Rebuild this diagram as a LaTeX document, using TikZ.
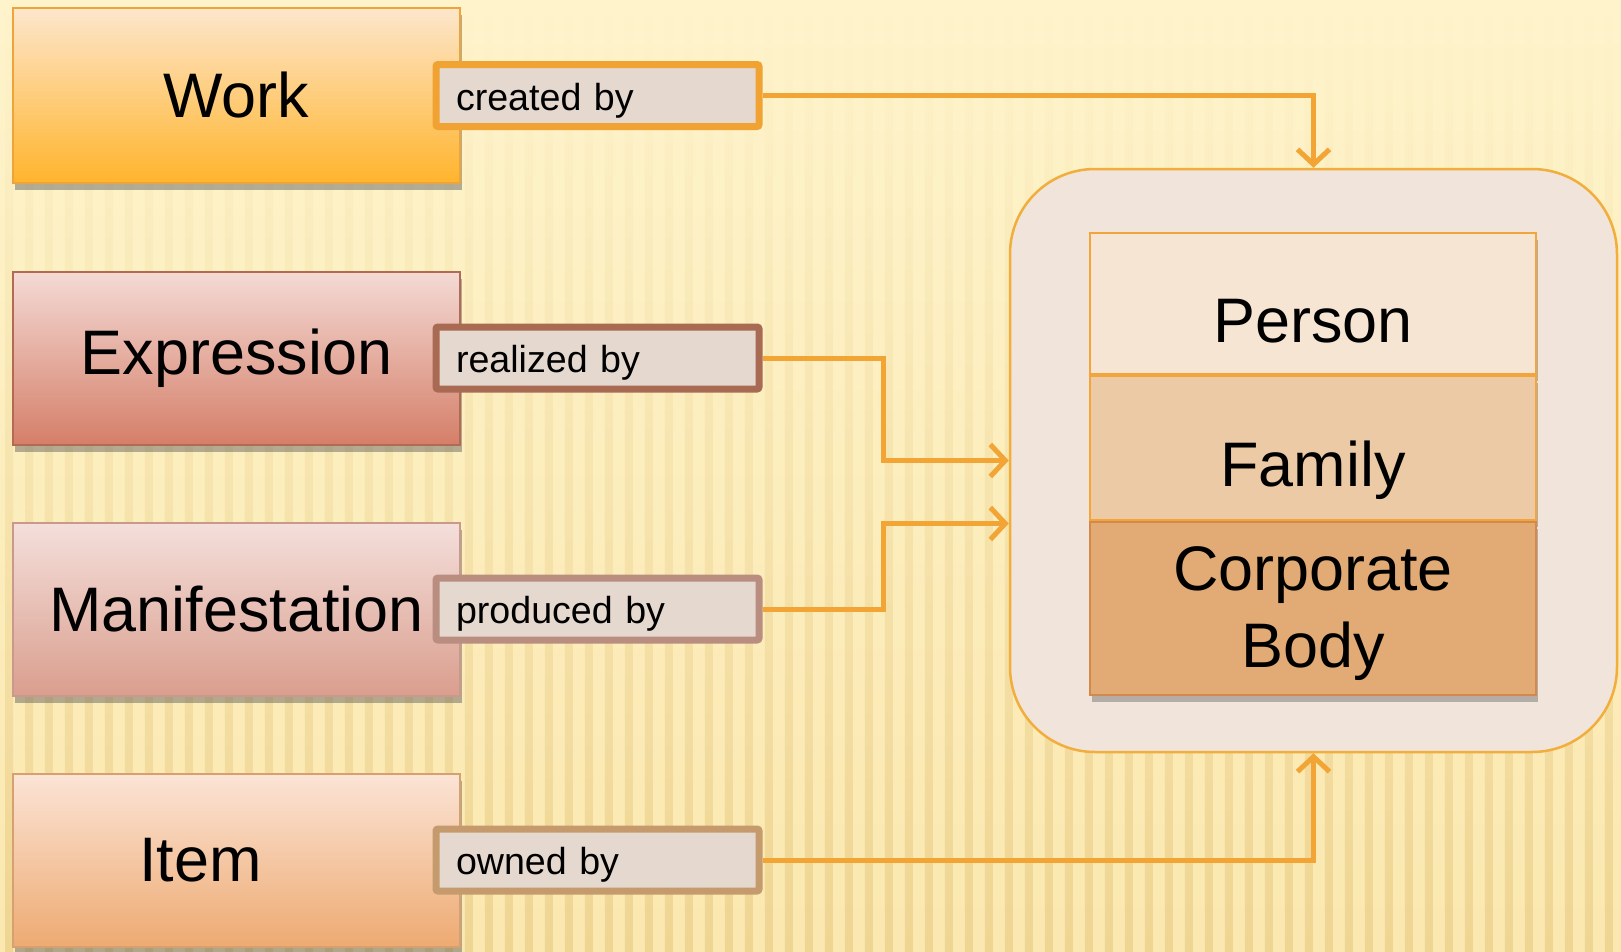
\documentclass[tikz,border=0pt]{standalone}
\usepackage{fontspec}
\setmainfont{Liberation Sans}
\usetikzlibrary{arrows.meta,shadows}

\definecolor{bgtop}{HTML}{FEF3CB}
\definecolor{bgbot}{HTML}{FBE8B0}
\definecolor{stripe}{HTML}{EFD592}
\definecolor{worktop}{HTML}{FDE6CC}
\definecolor{workbot}{HTML}{FFB42C}
\definecolor{workline}{HTML}{EFA43A}
\definecolor{exprtop}{HTML}{F4DAD5}
\definecolor{exprbot}{HTML}{D57F69}
\definecolor{exprline}{HTML}{B26A55}
\definecolor{manitop}{HTML}{F4DFDB}
\definecolor{manibot}{HTML}{DA9E8E}
\definecolor{maniline}{HTML}{C8998C}
\definecolor{itemtop}{HTML}{FBE4D6}
\definecolor{itembot}{HTML}{EEAA72}
\definecolor{itemline}{HTML}{D6A070}
\definecolor{relfill}{HTML}{E5D8CF}
\definecolor{createdline}{HTML}{F0A232}
\definecolor{realizedline}{HTML}{A96A53}
\definecolor{producedline}{HTML}{B98D80}
\definecolor{ownedline}{HTML}{C59B6E}
\definecolor{agentfill}{HTML}{F0E4DB}
\definecolor{agentline}{HTML}{F2AE3C}
\definecolor{personfill}{HTML}{F6E5D3}
\definecolor{familyfill}{HTML}{ECCAA5}
\definecolor{corpfill}{HTML}{E2AB75}
\definecolor{personline}{HTML}{F2A53A}
\definecolor{corpline}{HTML}{D4884A}
\definecolor{connorange}{HTML}{F2A535}

\tikzset{
  bigtext/.style={font=\fontsize{17.9}{22}\selectfont},
  entity/.style={draw, line width=0.02cm, minimum width=4.47cm, minimum height=1.73cm, bigtext,
    drop shadow={shadow xshift=0.02cm, shadow yshift=-0.07cm, opacity=0.45, fill=black!65}},
  rel/.style={draw, line width=0.07cm, fill=relfill, rounded corners=0.02cm, minimum height=0.62cm,
    text width=2.83cm, inner xsep=0.2cm, align=left, text height=0.29cm, text depth=0cm,
    font=\fontsize{10.7}{12.8}\selectfont},
  agent/.style={draw, line width=0.02cm, minimum width=4.46cm, bigtext, align=center,
    drop shadow={shadow xshift=0.02cm, shadow yshift=-0.07cm, opacity=0.4, fill=black!65}},
  conn/.style={draw=connorange, line width=0.05cm, -{Straight Barb[length=0.15cm,width=0.32cm]}}
}

\begin{document}
\begin{tikzpicture}
\useasboundingbox (0,0) rectangle (16.21,-9.52);

% background
\shade[top color=bgtop, bottom color=bgbot] (0,0) rectangle (16.21,-9.52);
\foreach \x in {0.05,0.25,...,16.2}
  \shade[top color=bgtop, bottom color=stripe] (\x,0) rectangle ++(0.08,-9.52);

% group 1 entities
\node[entity, draw=workline, top color=worktop, bottom color=workbot, minimum height=1.75cm] (work) at (2.365,-0.955) {Work};
\node[entity, draw=exprline, top color=exprtop, bottom color=exprbot] (expression) at (2.365,-3.58) {Expression};
\node[entity, draw=maniline, top color=manitop, bottom color=manibot] (manifestation) at (2.365,-6.09) {Manifestation};
\node[entity, draw=itemline, top color=itemtop, bottom color=itembot] (item) at (2.365,-8.60) {Item\hspace*{0.72cm}};

% relationships
\node[rel, draw=createdline, anchor=west] (createdby) at ([xshift=-0.285cm]work.east) {created by};
\node[rel, draw=realizedline, anchor=west] (realizedby) at ([xshift=-0.285cm]expression.east) {realized by};
\node[rel, draw=producedline, anchor=west] (producedby) at ([xshift=-0.285cm]manifestation.east) {produced by};
\node[rel, draw=ownedline, anchor=west] (ownedby) at ([xshift=-0.285cm]item.east) {owned by};

% group 2 entities
\node[draw=agentline, fill=agentfill, line width=0.025cm, rounded corners=0.85cm,
  minimum width=6.07cm, minimum height=5.83cm] (agents) at (13.135,-4.605) {};
\node[agent, draw=personline, fill=personfill, minimum height=1.41cm, text height=0.77cm, text depth=0pt] (person) at (13.13,-3.035) {Person};
\node[agent, draw=personline, fill=familyfill, minimum height=1.44cm, text height=0.77cm, text depth=0pt, anchor=north] (family) at (person.south) {Family};
\node[agent, draw=corpline, fill=corpfill, minimum height=1.73cm, text height=1.31cm, anchor=north] (corporate) at (family.south) {Corporate\\Body};

% connectors
\draw[conn] (createdby.east) -| (agents.north);
\draw[conn] (realizedby.east) -- ++(1.21,0) |- (agents.west);
\draw[conn] (producedby.east) -- ++(1.21,0) |- ([yshift=-0.63cm]agents.west);
\draw[conn] (ownedby.east) -| (agents.south);

\end{tikzpicture}
\end{document}
